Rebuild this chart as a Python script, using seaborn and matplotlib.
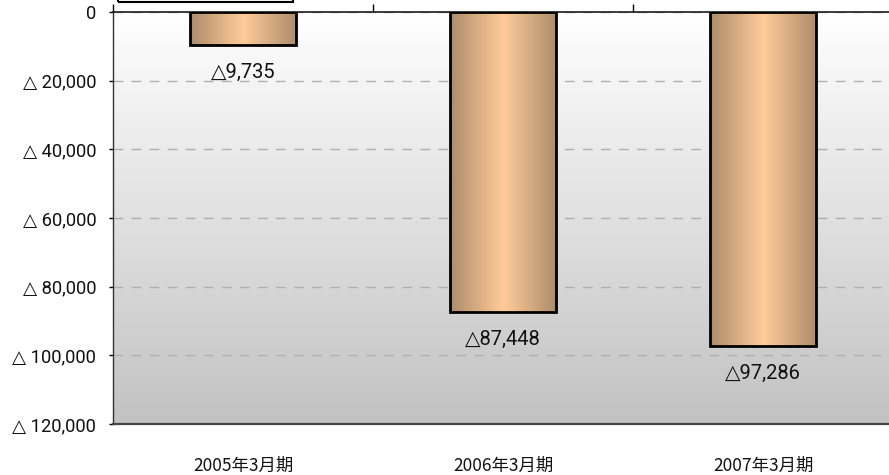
import numpy as np
import pandas as pd
import matplotlib
matplotlib.use("Agg")
import matplotlib.pyplot as plt
import seaborn as sns
from matplotlib.patches import Rectangle
from matplotlib.colors import LinearSegmentedColormap

# Data
periods = ["2005年3月期", "2006年3月期", "2007年3月期"]
losses = [9735, 87448, 97286]
bar_labels = ["△9,735", "△87,448", "△97,286"]
y_ticks = [0, 20000, 40000, 60000, 80000, 100000, 120000]
y_tick_labels = ["0", "△ 20,000", "△ 40,000", "△ 60,000", "△ 80,000",
                 "△ 100,000", "△ 120,000"]

sns.set_theme(style="white")
plt.rcParams["font.family"] = ["Roboto", "DejaVu Sans", "Noto Sans CJK JP"]
narrow_family = ["Liberation Sans Narrow", "DejaVu Sans Condensed",
                 "Noto Sans CJK JP"]

W, H = 889, 475
fig = plt.figure(figsize=(W / 100, H / 100), dpi=100)
fig.patch.set_facecolor("white")
ax = fig.add_axes([113 / W, 1 - 424 / H, 780 / W, 412 / H])

df = pd.DataFrame({"period": periods, "loss": losses})
sns.barplot(data=df, x="period", y="loss", ax=ax, width=0.41,
            color="#ffcc99", edgecolor="black", linewidth=2, zorder=3)

ax.set_xlim(-0.5, 2.5)
ax.set_ylim(120000, 0)

# Vertical background shading: white at the top to grey at the bottom
bg_cmap = LinearSegmentedColormap.from_list("bg", ["#ffffff", "#c2c2c2"])
ax.imshow(np.linspace(0, 1, 256).reshape(-1, 1), cmap=bg_cmap, aspect="auto",
          extent=(-0.5, 2.5, 120000, 0), origin="upper", zorder=0)

# Horizontal metallic shading inside each bar
bar_cmap = LinearSegmentedColormap.from_list(
    "bar", [(0.0, "#ad8c6c"), (0.5, "#ffcc99"), (1.0, "#ad8c6c")])
grad = np.linspace(0, 1, 256).reshape(1, -1)
for p in ax.patches:
    x0, w = p.get_x(), p.get_width()
    y0, h = p.get_y(), p.get_height()
    im = ax.imshow(grad, cmap=bar_cmap, aspect="auto",
                   extent=(x0, x0 + w, y0 + h, y0), zorder=2.9)
    im.set_clip_path(p)
    p.set_facecolor("none")

# Value labels under each bar
for i, (v, lab) in enumerate(zip(losses, bar_labels)):
    ax.annotate(lab, (i, v), xytext=(0, -19.5), textcoords="offset points",
                ha="center", va="center", fontsize=14.5, color="#111111",
                zorder=5)

# Axes styling
ax.set_xlabel("")
ax.set_ylabel("")
ax.set_yticks(y_ticks)
ax.set_yticklabels(y_tick_labels, fontsize=13.2, color="#111111")
ax.tick_params(axis="y", left=True, length=3, width=1, color="black",
               direction="out", pad=9)

ax.set_xticks([0, 1, 2])
ax.set_xticklabels(periods, fontsize=12.5, color="#111111",
                   family=narrow_family)
ax.set_xticks([-0.5, 0.5, 1.5, 2.5], minor=True)
ax.tick_params(axis="x", which="major", bottom=False, top=False,
               length=0, pad=24)
ax.tick_params(axis="x", which="minor", bottom=False, top=True,
               length=6, width=1, color="black", direction="out")

ax.yaxis.grid(True, linestyle=(0, (7, 6)), color="#b0b0b0", linewidth=1)
ax.xaxis.grid(False)
ax.set_axisbelow(True)
for gl in ax.get_ygridlines():
    gl.set_zorder(1)

ax.spines["top"].set_color("#1a1a1a")
ax.spines["top"].set_linewidth(1.2)
ax.spines["left"].set_color("#333333")
ax.spines["left"].set_linewidth(1)
ax.spines["bottom"].set_color("#444444")
ax.spines["bottom"].set_linewidth(1.6)
ax.spines["right"].set_visible(False)

# Frame of the box sitting above the plot area
fig.patches.append(Rectangle((118 / W, 1 - 2 / H), (293 - 118) / W, 0.1,
                             transform=fig.transFigure, fill=False,
                             edgecolor="black", linewidth=1.5))

fig.savefig("out.png", dpi=100)
